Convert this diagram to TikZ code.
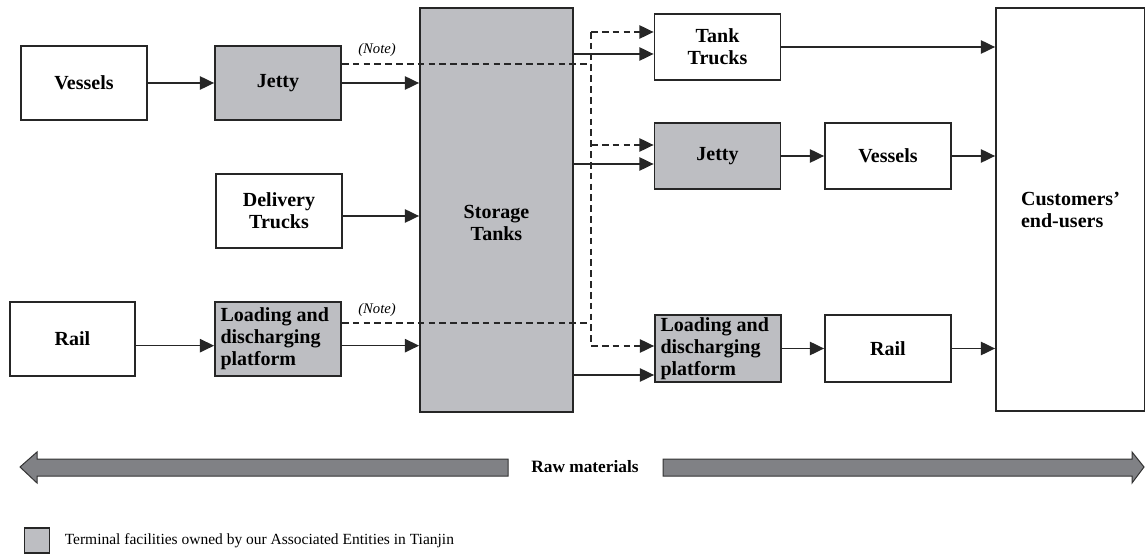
\documentclass[tikz,border=0pt]{standalone}
\usepackage{fontspec}
\setmainfont{Liberation Serif}
\usetikzlibrary{arrows.meta}
\definecolor{facility}{RGB}{189,190,194}
\definecolor{bigarrow}{RGB}{128,129,133}

\begin{document}
\begin{tikzpicture}[x=0.6pt,y=-0.6pt,line width=0.9pt,draw=black!85,
    font=\fontsize{12}{13.2}\selectfont\bfseries]
        \tikzstyle{arr}=[-{Triangle[length=8.5pt,width=8pt]}]
        \tikzstyle{unit}=[rectangle,draw,line width=1.1pt,fill=white,minimum width=75.6pt,minimum height=44.4pt,inner sep=2pt,align=center]
        \tikzstyle{owned}=[unit,fill=facility]
        \tikzstyle{platform}=[owned,text width=69pt,align=flush left,inner xsep=3pt,inner ysep=0.5pt]
        \tikzstyle{opt}=[dash pattern=on 4pt off 2.5pt]
        \tikzstyle{note}=[font=\fontsize{8.8}{10}\selectfont\itshape]

        \useasboundingbox (0,0) rectangle (1145,554);

        % Draw the inbound side
        \node[unit] (ves-in) at (84,83) {Vessels};
        \node[owned] (jet-in) at (278,83) {Jetty};
        \node[unit] (del-in) at (279,211) {Delivery\\Trucks};
        \node[unit,minimum width=75pt] (rail-in) at (72.5,339) {Rail};
        \node[platform,minimum height=44.4pt] (plat-in) at (278,339) {Loading and\\discharging\\platform};

        % Draw the storage tanks
        \node[owned,minimum width=91.8pt,minimum height=242.4pt] (tanks) at (496.5,210) {\rule{0pt}{24pt}Storage\\Tanks};

        % Draw the outbound side
        \node[unit,minimum height=39.6pt] (tt-out) at (717.5,47) {Tank\\Trucks};
        \node[owned,minimum height=39.6pt] (jet-out) at (717.5,156) {Jetty};
        \node[unit,minimum height=39.6pt] (ves-out) at (888,156) {Vessels};
        \node[platform,minimum height=40.2pt] (plat-out) at (718,348.5) {Loading and\\discharging\\platform};
        \node[unit,minimum height=40.2pt] (rail-out) at (888,348.5) {Rail};
        \node[unit,minimum width=89.4pt,minimum height=241.8pt,align=left] (cust) at (1070.5,209.5) {Customers’\\end-users};

        % Connect the inbound side with the tanks
        \draw[arr] (ves-in) -- (jet-in);
        \draw[arr] (jet-in) -- (jet-in -| tanks.west);
        \draw[arr] ([yshift=-3pt]del-in.east) -- ([yshift=-3pt]del-in.east -| tanks.west);
        \draw[arr] ([yshift=-4pt]rail-in.east) -- ([yshift=-4pt]rail-in.east -| plat-in.west);
        \draw[arr] ([yshift=-4pt]plat-in.east) -- ([yshift=-4pt]plat-in.east -| tanks.west);

        % Connect the tanks with the outbound side
        \draw[arr] (tanks.east |- 0,54) -- (tt-out.west |- 0,54);
        \draw[arr] (tanks.east |- 0,164) -- (jet-out.west |- 0,164);
        \draw[arr] (tanks.east |- 0,375) -- (plat-out.west |- 0,375);
        \foreach \a/\b in {tt-out/cust,jet-out/ves-out,ves-out/cust,plat-out/rail-out,rail-out/cust}
            \draw[arr] (\a) -- (\a -| \b.west);

        % Direct transfers (dashed)
        \coordinate (join-1) at (591,64);
        \coordinate (join-2) at (591,323);
        \coordinate (turn-1) at (591,32);
        \coordinate (turn-2) at (591,145);
        \coordinate (turn-3) at (591,346);
        \draw[opt] (jet-in.east |- join-1) -- (join-1);
        \draw[opt] (plat-in.east |- join-2) -- (join-2);
        \draw[opt] (turn-1) -- (turn-3);
        \foreach \t/\dst in {1/tt-out,2/jet-out,3/plat-out}
            \draw[opt,arr] (turn-\t) -- (turn-\t -| \dst.west);
        \node[note] (note-1) at (377,50) {(Note)};
        \node[note] (note-2) at (377,310) {(Note)};

        % Raw materials arrows
        \filldraw[fill=bigarrow,draw=black!80,line width=0.6pt] (20,467) -- (37,452) -- (37,459) -- (508,459) -- (508,476) -- (37,476) -- (37,483) -- cycle;
        \filldraw[fill=bigarrow,draw=black!80,line width=0.6pt] (1144,467) -- (1132,452) -- (1132,459) -- (663,459) -- (663,476) -- (1132,476) -- (1132,483) -- cycle;
        \node[font=\fontsize{10.4}{12}\selectfont\bfseries] (raw) at (585,467) {Raw materials};

        % Legend
        \node[owned,line width=0.8pt,minimum width=15pt,minimum height=15pt,inner sep=0pt] (key) at (37,540.5) {};
        \node[anchor=west,inner sep=0pt,font=\fontsize{9.3}{10}\selectfont] (key-text) at (64,541) {Terminal facilities owned by our Associated Entities in Tianjin};
\end{tikzpicture}
\end{document}
